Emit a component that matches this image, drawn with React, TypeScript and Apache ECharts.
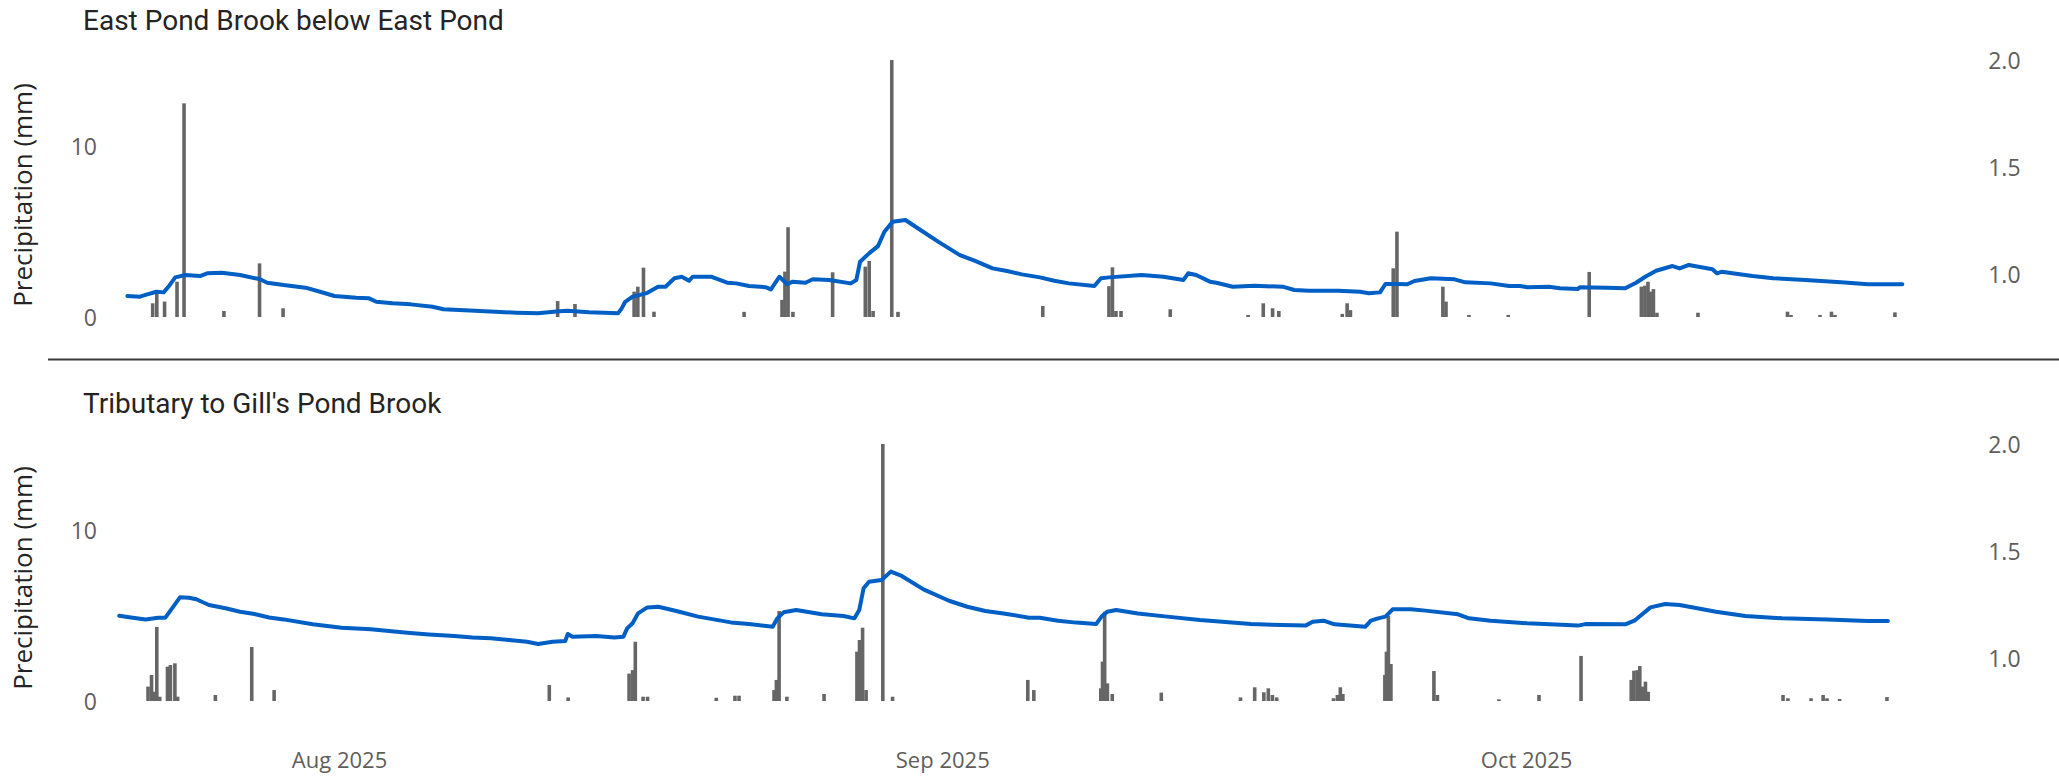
import React, { useEffect, useRef } from "react";
import * as echarts from "echarts";

// Day offsets are counted from 1 Aug 2025 00:00 (UTC)
const AUG1 = Date.UTC(2025, 7, 1);
const DAY = 86400000;

const panelTitles = ["East Pond Brook below East Pond", "Tributary to Gill's Pond Brook"];
const precipAxisName = "Precipitation (mm)";
const monthTickDates = ["2025-08-01", "2025-09-01", "2025-10-01"];
const monthTickLabels = ["Aug 2025", "Sep 2025", "Oct 2025"];
const precipTicks = [0, 10];
const levelTicks = [1.0, 1.5, 2.0];

// [day offset, level] — East Pond Brook below East Pond
const eastLevel: [number, number][] = [
  [-10.9, 0.898], [-10.25, 0.895], [-9.97, 0.903], [-9.41, 0.918], [-9.04, 0.915], [-8.76, 0.945],
  [-8.44, 0.985], [-7.92, 0.996], [-7.17, 0.991], [-6.8, 1.004], [-6.05, 1.007], [-5.11, 0.996],
  [-4.08, 0.976], [-3.72, 0.96], [-2.87, 0.949], [-1.75, 0.937], [-1.0, 0.918], [-0.26, 0.898],
  [0.86, 0.89], [1.52, 0.887], [1.89, 0.871], [2.73, 0.864], [3.66, 0.859], [4.78, 0.848],
  [5.34, 0.836], [7.22, 0.828], [9.08, 0.82], [10.2, 0.817], [11.14, 0.826], [11.69, 0.829],
  [12.82, 0.822], [14.31, 0.817], [14.5, 0.84], [14.68, 0.871], [15.06, 0.895], [15.44, 0.903],
  [15.82, 0.913], [16.37, 0.941], [16.75, 0.941], [17.21, 0.981], [17.59, 0.988], [17.96, 0.969],
  [18.15, 0.988], [19.09, 0.988], [19.92, 0.96], [20.39, 0.957], [21.04, 0.945], [21.89, 0.939],
  [22.17, 0.929], [22.6, 0.988], [23.01, 0.953], [23.29, 0.965], [23.94, 0.96], [24.32, 0.976],
  [25.16, 0.973], [26.27, 0.957], [26.56, 0.973], [26.75, 1.058], [27.21, 1.097], [27.67, 1.131],
  [28.0, 1.198], [28.42, 1.245], [29.08, 1.253], [29.64, 1.219], [30.76, 1.152], [31.88, 1.089],
  [32.63, 1.063], [33.56, 1.027], [34.3, 1.015], [35.06, 0.999], [35.99, 0.985], [36.74, 0.969],
  [37.48, 0.957], [38.79, 0.945], [39.13, 0.981], [39.54, 0.985], [41.22, 0.996], [42.34, 0.988],
  [43.37, 0.973], [43.61, 1.004], [44.02, 0.996], [44.73, 0.965], [45.06, 0.96], [45.9, 0.941],
  [47.02, 0.946], [48.51, 0.941], [49.07, 0.926], [49.82, 0.923], [51.31, 0.923], [52.44, 0.918],
  [52.9, 0.911], [53.47, 0.915], [53.75, 0.954], [54.3, 0.954], [54.87, 0.953], [55.24, 0.968],
  [56.08, 0.981], [57.3, 0.976], [57.86, 0.962], [59.16, 0.957], [60.1, 0.945], [60.66, 0.945],
  [61.04, 0.939], [62.15, 0.941], [62.71, 0.934], [63.65, 0.931], [63.74, 0.939], [65.13, 0.937],
  [66.07, 0.934], [66.63, 0.96], [67.1, 0.988], [67.66, 1.016], [68.5, 1.038], [68.87, 1.027],
  [69.34, 1.043], [70.55, 1.023], [70.78, 1.004], [71.02, 1.011], [72.61, 0.991], [73.67, 0.981],
  [75.33, 0.973], [77.16, 0.962], [78.55, 0.953], [80.31, 0.953],
];

// [day offset, mm] — East Pond Brook below East Pond
const eastRain: [number, number][] = [
  [-9.6, 0.8], [-9.39, 1.34], [-8.99, 0.9], [-8.35, 2.06], [-7.99, 12.47], [-5.94, 0.35],
  [-4.11, 3.13], [-2.9, 0.51], [11.21, 0.93], [12.1, 0.76], [15.14, 1.48], [15.33, 1.77],
  [15.62, 2.88], [16.16, 0.31], [20.79, 0.3], [22.74, 1.0], [22.89, 2.65], [23.05, 5.24],
  [23.3, 0.3], [25.34, 2.61], [27.02, 2.94], [27.22, 3.27], [27.42, 0.35], [28.38, 15.04],
  [28.7, 0.3], [36.14, 0.64], [39.54, 1.8], [39.72, 2.9], [39.9, 0.35], [40.16, 0.35],
  [42.69, 0.45], [46.69, 0.12], [47.47, 0.8], [47.95, 0.51], [48.27, 0.35], [51.53, 0.18],
  [51.78, 0.8], [51.95, 0.4], [54.15, 2.84], [54.34, 4.98], [56.7, 1.77], [56.86, 0.9],
  [58.04, 0.12], [60.06, 0.12], [64.22, 2.63], [66.9, 1.77], [67.08, 1.83], [67.24, 2.06],
  [67.37, 1.48], [67.52, 1.63], [67.7, 0.25], [69.81, 0.25], [74.41, 0.31], [74.59, 0.12],
  [76.08, 0.12], [76.67, 0.31], [76.85, 0.12], [79.93, 0.27],
];

// [day offset, level] — Tributary to Gill's Pond Brook
const gillLevel: [number, number][] = [
  [-11.32, 1.198], [-10.72, 1.19], [-9.97, 1.181], [-9.32, 1.189], [-8.95, 1.189], [-8.57, 1.237],
  [-8.2, 1.284], [-7.73, 1.282], [-7.36, 1.275], [-6.71, 1.248], [-5.86, 1.233], [-5.11, 1.217],
  [-4.37, 1.206], [-3.62, 1.19], [-2.87, 1.181], [-1.38, 1.158], [0.11, 1.142], [1.61, 1.135],
  [3.48, 1.119], [4.6, 1.111], [5.9, 1.103], [6.84, 1.096], [7.77, 1.093], [8.71, 1.085],
  [9.64, 1.077], [10.2, 1.066], [10.95, 1.077], [11.6, 1.08], [11.73, 1.113], [11.97, 1.1],
  [13.19, 1.103], [14.12, 1.097], [14.59, 1.1], [14.78, 1.139], [15.06, 1.163], [15.34, 1.209],
  [15.82, 1.237], [16.38, 1.24], [17.31, 1.22], [18.43, 1.194], [20.11, 1.167], [21.04, 1.159],
  [22.26, 1.147], [22.5, 1.186], [22.82, 1.214], [23.47, 1.225], [24.78, 1.205], [25.9, 1.197],
  [26.46, 1.186], [26.71, 1.225], [26.93, 1.326], [27.21, 1.357], [27.86, 1.365], [28.33, 1.404],
  [28.89, 1.384], [30.01, 1.321], [31.32, 1.268], [32.26, 1.24], [33.19, 1.22], [34.12, 1.209],
  [35.43, 1.189], [35.99, 1.189], [36.92, 1.175], [37.86, 1.166], [38.88, 1.159], [39.16, 1.194],
  [39.45, 1.217], [39.91, 1.225], [41.03, 1.209], [42.53, 1.194], [44.22, 1.178], [46.84, 1.159],
  [49.64, 1.152], [50.01, 1.17], [50.57, 1.175], [51.13, 1.158], [52.72, 1.147], [53.0, 1.175],
  [53.37, 1.186], [53.75, 1.194], [54.12, 1.228], [55.05, 1.228], [55.8, 1.222], [57.48, 1.205],
  [58.04, 1.186], [59.16, 1.175], [61.03, 1.163], [63.64, 1.152], [64.02, 1.159], [66.07, 1.158],
  [66.54, 1.175], [67.37, 1.237], [68.13, 1.253], [68.87, 1.248], [70.74, 1.217], [72.24, 1.197],
  [74.14, 1.186], [76.44, 1.181], [78.53, 1.173], [79.57, 1.173],
];

// [day offset, mm] — Tributary to Gill's Pond Brook
const gillRain: [number, number][] = [
  [-9.84, 0.84], [-9.66, 1.52], [-9.5, 0.54], [-9.39, 4.32], [-9.24, 0.25], [-8.84, 2.0],
  [-8.69, 2.1], [-8.46, 2.2], [-8.32, 0.25], [-6.38, 0.35], [-4.51, 3.15], [-3.36, 0.64],
  [10.78, 0.93], [11.75, 0.21], [14.88, 1.6], [15.06, 1.8], [15.2, 3.46], [15.6, 0.25],
  [15.83, 0.25], [19.36, 0.19], [20.32, 0.31], [20.53, 0.31], [22.33, 0.64], [22.45, 1.23],
  [22.59, 5.25], [22.99, 0.25], [24.9, 0.41], [26.59, 2.88], [26.72, 3.56], [26.88, 4.28],
  [27.06, 0.64], [27.92, 15.04], [28.42, 0.25], [35.37, 1.23], [35.68, 0.64], [39.12, 0.74],
  [39.21, 2.3], [39.32, 5.21], [39.46, 1.03], [39.71, 0.41], [42.23, 0.49], [46.3, 0.21],
  [47.03, 0.8], [47.5, 0.51], [47.73, 0.74], [47.94, 0.35], [48.16, 0.21], [51.08, 0.16],
  [51.28, 0.35], [51.43, 0.8], [51.56, 0.41], [53.72, 1.52], [53.8, 2.88], [53.9, 4.96],
  [54.03, 2.16], [56.24, 1.75], [56.42, 0.35], [59.58, 0.1], [61.64, 0.35], [63.8, 2.63],
  [66.38, 1.23], [66.52, 1.77], [66.69, 1.8], [66.82, 2.04], [66.97, 0.84], [67.11, 1.13],
  [67.25, 0.54], [74.18, 0.35], [74.43, 0.16], [75.62, 0.16], [76.24, 0.35], [76.44, 0.16],
  [77.09, 0.12], [79.52, 0.23],
];

const toTime = (d: number) => AUG1 + d * DAY;
const toSeries = (arr: [number, number][]) => arr.map(([d, v]) => [toTime(d), v]);

const GRID_LEFT = 106;
const GRID_WIDTH = 1829.2;
const GRID_TOPS = [60, 444];
const GRID_HEIGHT = 257;
const X_MIN = toTime(-12);
const X_MAX = toTime(82);

const TICK_COLOR = "#605E5C";
const TEXT_COLOR = "#252423";
const BAR_COLOR = "#666666";
const LINE_COLOR = "#005FC5";
const AXIS_FONT = "'Open Sans', 'Noto Sans', sans-serif";
const TITLE_FONT = "Roboto, 'Noto Sans', sans-serif";

const monthTickTimes = monthTickDates.map((s) => Date.parse(s + "T00:00:00Z"));

function buildOption() {
  const grids = GRID_TOPS.map((top) => ({
    left: GRID_LEFT,
    top,
    width: GRID_WIDTH,
    height: GRID_HEIGHT,
    containLabel: false,
  }));

  const xAxes = GRID_TOPS.map((_, i) => ({
    type: "value",
    gridIndex: i,
    min: X_MIN,
    max: X_MAX,
    axisLine: { show: false },
    axisTick: { show: false },
    splitLine: { show: false },
    axisLabel:
      i === 0
        ? { show: false }
        : {
            show: true,
            customValues: monthTickTimes,
            margin: 47,
            color: TICK_COLOR,
            fontSize: 22,
            fontFamily: AXIS_FONT,
            formatter: (v: number) => {
              const idx = monthTickTimes.findIndex((t) => Math.abs(t - v) < DAY / 2);
              return idx >= 0 ? monthTickLabels[idx] : "";
            },
          },
  }));

  const yAxes: any[] = [];
  GRID_TOPS.forEach((_, i) => {
    yAxes.push({
      type: "value",
      gridIndex: i,
      position: "left",
      min: 0,
      max: 15,
      interval: 5,
      axisLine: { show: false },
      axisTick: { show: false },
      splitLine: { show: false },
      axisLabel: {
        margin: 9,
        color: TICK_COLOR,
        fontSize: 23,
        fontFamily: AXIS_FONT,
        formatter: (v: number) => (precipTicks.some((t) => Math.abs(t - v) < 1e-6) ? String(v) : ""),
      },
    });
    yAxes.push({
      type: "value",
      gridIndex: i,
      position: "right",
      min: 0.8,
      max: 2.0,
      interval: 0.1,
      axisLine: { show: false },
      axisTick: { show: false },
      splitLine: { show: false },
      axisLabel: {
        margin: 53,
        color: TICK_COLOR,
        fontSize: 23,
        fontFamily: AXIS_FONT,
        formatter: (v: number) => (levelTicks.some((t) => Math.abs(t - v) < 1e-6) ? v.toFixed(1) : ""),
      },
    });
  });

  const rains = [eastRain, gillRain];
  const levels = [eastLevel, gillLevel];
  const series: any[] = [];
  GRID_TOPS.forEach((_, i) => {
    series.push({
      type: "bar",
      name: "Precipitation",
      xAxisIndex: i,
      yAxisIndex: i * 2,
      data: toSeries(rains[i]),
      barWidth: 3.6,
      itemStyle: { color: BAR_COLOR },
      z: 2,
    });
    series.push({
      type: "line",
      name: "Level",
      xAxisIndex: i,
      yAxisIndex: i * 2 + 1,
      data: toSeries(levels[i]),
      showSymbol: false,
      symbol: "none",
      lineStyle: { width: 4, color: LINE_COLOR, cap: "round", join: "round" },
      itemStyle: { color: LINE_COLOR },
      z: 3,
    });
  });

  const graphic: any[] = [
    {
      type: "line",
      shape: { x1: 48, y1: 359.5, x2: 2059, y2: 359.5 },
      style: { stroke: "#3B3A39", lineWidth: 2 },
    },
  ];
  const titleY = [20, 403];
  const nameY = [195, 578];
  panelTitles.forEach((t, i) => {
    graphic.push({
      type: "text",
      x: 83,
      y: titleY[i],
      style: {
        text: t,
        fill: TEXT_COLOR,
        font: `28px ${TITLE_FONT}`,
        align: "left",
        verticalAlign: "middle",
      },
    });
    graphic.push({
      type: "text",
      x: 22,
      y: nameY[i],
      rotation: Math.PI / 2,
      style: {
        text: precipAxisName,
        fill: TEXT_COLOR,
        font: `26px ${AXIS_FONT}`,
        align: "center",
        verticalAlign: "middle",
      },
    });
  });

  return {
    animation: false,
    backgroundColor: "#ffffff",
    grid: grids,
    xAxis: xAxes,
    yAxis: yAxes,
    series,
    graphic,
  };
}

export default function App() {
  const ref = useRef<HTMLDivElement>(null);
  useEffect(() => {
    if (!ref.current) return;
    const chart = echarts.init(ref.current, undefined, { renderer: "svg" });
    chart.setOption(buildOption() as any);
    return () => chart.dispose();
  }, []);
  return (
    <div
      ref={ref}
      style={{ position: "fixed", left: 0, top: 0, width: 2059, height: 778, background: "#fff" }}
    />
  );
}
